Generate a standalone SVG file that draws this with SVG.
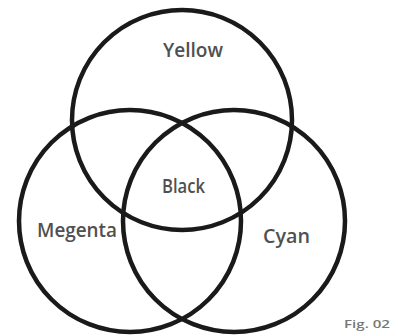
<svg xmlns="http://www.w3.org/2000/svg" width="398" height="336" viewBox="0 0 398 336">
<style>
.c{fill:none;stroke:#1a1a1a;stroke-width:4.5}
.t{font-family:"Open Sans","Noto Sans",sans-serif;font-size:20px;font-weight:600;fill:#505050}
.f{font-family:"Open Sans","Noto Sans",sans-serif;font-size:11px;font-weight:600;fill:#777}
</style>
<rect width="398" height="336" fill="#fff"/>
<g id="yellow"><circle class="c" cx="182" cy="120" r="110"/><text class="t" x="163" y="57" textLength="60" lengthAdjust="spacingAndGlyphs">Yellow</text></g>
<g id="magenta"><circle class="c" cx="130" cy="221" r="111"/><text class="t" x="37" y="237" textLength="80" lengthAdjust="spacingAndGlyphs">Megenta</text></g>
<g id="cyan"><circle class="c" cx="234" cy="221" r="111"/><text class="t" x="263" y="243" textLength="47" lengthAdjust="spacingAndGlyphs">Cyan</text></g>
<g id="black"><text class="t" x="162" y="193" textLength="43" lengthAdjust="spacingAndGlyphs">Black</text></g>
<text class="f" x="344" y="328" textLength="46" lengthAdjust="spacingAndGlyphs">Fig. 02</text>
</svg>
